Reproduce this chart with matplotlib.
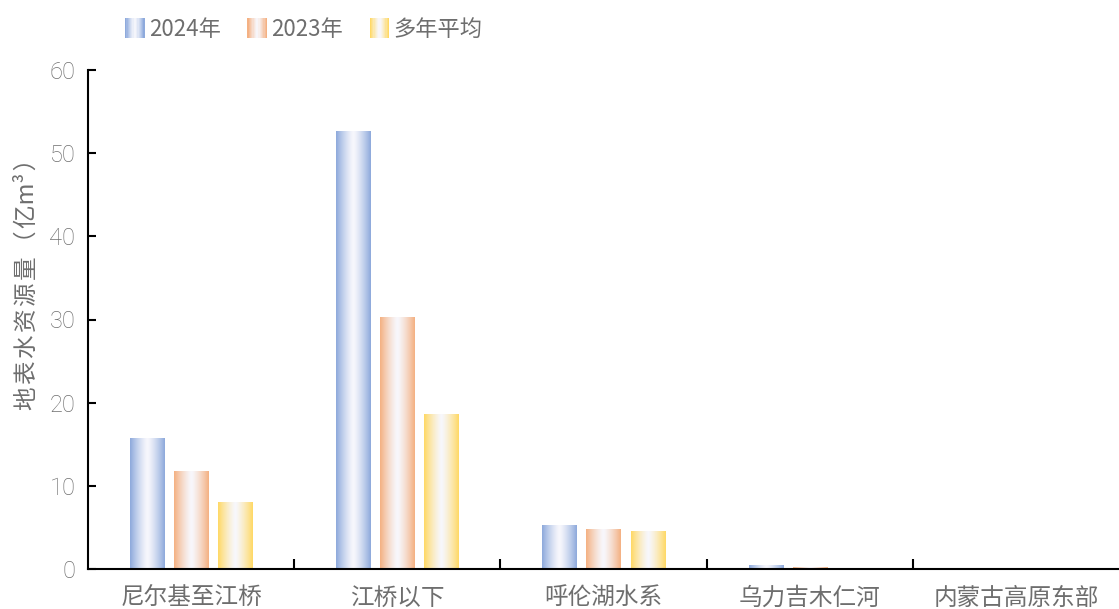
import numpy as np
import matplotlib
matplotlib.use("Agg")
import matplotlib.pyplot as plt
from matplotlib.patches import Rectangle
from matplotlib.legend_handler import HandlerBase
from matplotlib.colors import to_rgb

plt.rcParams['font.family'] = ['Noto Sans CJK SC', 'DejaVu Sans']

categories = ["尼尔基至江桥", "江桥以下", "呼伦湖水系", "乌力吉木仁河", "内蒙古高原东部"]
series_names = ["2024年", "2023年", "多年平均"]
values_2024 = [15.8, 52.7, 5.3, 0.5, 0.02]
values_2023 = [11.8, 30.3, 4.8, 0.2, 0.08]
values_avg = [8.1, 18.6, 4.6, 0.05, 0.08]
yticks = [0, 10, 20, 30, 40, 50, 60]
ylabel_text = "地\u200a表\u200a水\u200a资\u200a源\u200a量\u200a（\u200a亿m³\u200a）"

edge_colors = ["#8eaadc", "#f4b183", "#ffd966"]
text_gray = "#6e6e6e"


def gradient_rows(edge, n=64):
    """Horizontal edge -> light centre -> edge gradient."""
    e = np.array(to_rgb(edge))
    w = np.array([0.97, 0.97, 0.99])
    t = np.linspace(-1, 1, n)
    k = np.abs(t) ** 1.3
    return (1 - k)[:, None] * w + k[:, None] * e


fig = plt.figure(figsize=(11.19, 6.09), dpi=100)
ax = fig.add_axes([88 / 1119, 40 / 609, (1119 - 88) / 1119, (569 - 70) / 609])

x = np.arange(len(categories))
bar_w = 0.165
offsets = [-0.214, 0.0, 0.214]
all_series = [values_2024, values_2023, values_avg]

for s, (vals, col, off) in enumerate(zip(all_series, edge_colors, offsets)):
    grad = gradient_rows(col)[None, :, :]
    bars = ax.bar(x + off, vals, bar_w, color=col, linewidth=0, label=series_names[s])
    for b in bars:
        h = b.get_height()
        if h <= 0:
            continue
        x0 = b.get_x()
        im = ax.imshow(grad, extent=[x0, x0 + bar_w, 0, h], aspect='auto',
                       interpolation='bilinear', zorder=2)
        im.set_clip_path(b)
        b.set_alpha(0.0)

ax.set_xlim(-0.5, len(categories) - 0.5)
ax.set_ylim(0, 60)
ax.set_yticks(yticks)
ax.set_yticklabels([str(v) for v in yticks], family=['Roboto', 'DejaVu Sans'],
                   fontweight='light')

# category separators on the x axis
ax.set_xticks(x)
ax.set_xticklabels(categories)
ax.set_xticks(np.arange(0.5, len(categories) - 0.5, 1), minor=True)
ax.tick_params(axis='x', which='major', length=0, pad=13, labelsize=17, labelcolor=text_gray)
ax.tick_params(axis='x', which='minor', direction='in', length=7, width=1.5, color='black')
ax.tick_params(axis='y', direction='in', length=6, width=1.5, color='black',
               labelsize=17, labelcolor=text_gray, pad=9)

for sp in ['top', 'right']:
    ax.spines[sp].set_visible(False)
for sp in ['left', 'bottom']:
    ax.spines[sp].set_linewidth(1.5)
    ax.spines[sp].set_color('black')

ax.set_ylabel(ylabel_text, fontsize=17, color=text_gray)
ax.yaxis.set_label_coords(-0.0475, 0.583)


class GradientHandler(HandlerBase):
    def __init__(self, edge):
        super().__init__()
        self.edge = edge

    def create_artists(self, legend, orig_handle, xdescent, ydescent, width, height,
                       fontsize, trans):
        rows = gradient_rows(self.edge, n=16)
        n = len(rows)
        w = 14.0
        x0 = (width - w) / 2 - xdescent
        arts = []
        for i, c in enumerate(rows):
            r = Rectangle((x0 + i * w / n, -ydescent - 1), w / n + 0.1, height + 3,
                          facecolor=c, edgecolor='none', transform=trans)
            arts.append(r)
        return arts


handles = ax.containers
leg = fig.legend(handles, series_names, loc='upper left', bbox_to_anchor=(106 / 1119, 1.003),
                 ncol=3, frameon=False, fontsize=16, handlelength=0.8, handletextpad=0.22,
                 columnspacing=1.25,
                 handler_map={h: GradientHandler(c) for h, c in zip(handles, edge_colors)})
for t in leg.get_texts():
    t.set_color(text_gray)

fig.savefig("out.png", dpi=100, facecolor='white')
